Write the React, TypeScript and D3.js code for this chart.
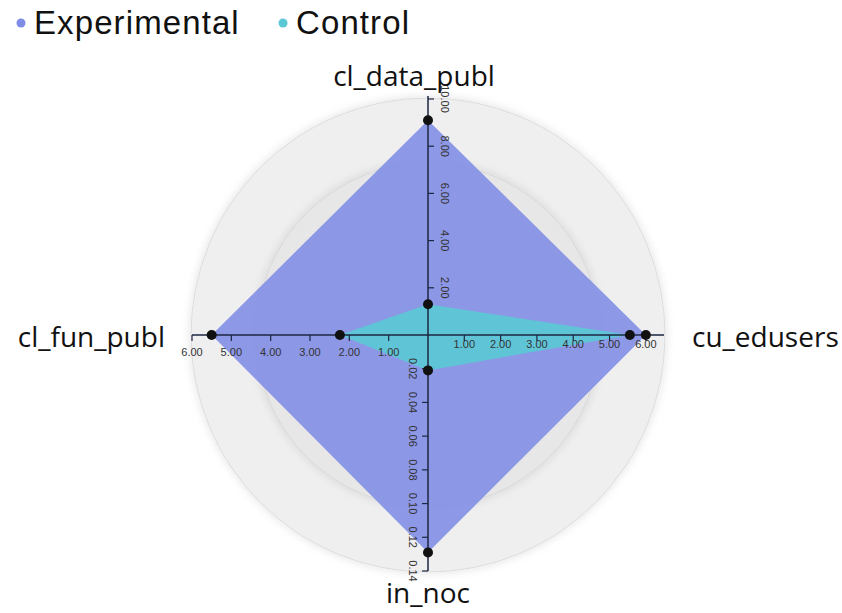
import React from 'react';
import * as d3 from 'd3';

const width = 842;
const height = 613;
const cx = 428;
const cy = 335;
const radius = 236;

// axes, clockwise from the top
const categories = ['cl_data_publ', 'cu_edusers', 'in_noc', 'cl_fun_publ'];
const axisMax = [10, 6.5, 0.14, 6];
const axisTicks = [
  [2, 4, 6, 8, 10],
  [1, 2, 3, 4, 5, 6],
  [0.02, 0.04, 0.06, 0.08, 0.1, 0.12, 0.14],
  [1, 2, 3, 4, 5, 6],
];

const seriesNames = ['Experimental', 'Control'];
const experimental = [9.1, 6.0, 0.129, 5.5];
const control = [1.3, 5.56, 0.021, 2.24];
const seriesColors = ['#7f8ce6', '#5cc8d6'];

const scales = axisMax.map(m => d3.scaleLinear().domain([0, m]).range([0, radius]));
const angles = categories.map((_, i) => (i * Math.PI) / 2);

const point = (i: number, v: number): [number, number] => {
  const r = scales[i](v);
  return [cx + r * Math.sin(angles[i]), cy - r * Math.cos(angles[i])];
};

const line = d3.line().curve(d3.curveLinearClosed);

const App: React.FC = () => {
  const series = [experimental, control];
  const axisColor = '#1c2640';
  const tickFont = { fontFamily: 'Liberation Sans, Arial, sans-serif', fontSize: 11, fill: '#333' };
  const labelFont = { fontFamily: 'Open Sans, sans-serif', fontSize: 28, fill: '#111' };

  return (
    <svg width={width} height={height} style={{ position: 'absolute', left: 0, top: 0, background: '#fff' }}>
      <defs>
        <filter id="shade" x="-20%" y="-20%" width="140%" height="140%">
          <feDropShadow dx="0" dy="0" stdDeviation="5" floodColor="#000" floodOpacity="0.12" />
        </filter>
      </defs>

      {/* legend */}
      <g>
        {seriesNames.map((n, i) => {
          const x = i === 0 ? 21 : 283;
          return (
            <g key={n}>
              <circle cx={x} cy={23} r={4.5} fill={seriesColors[i]} />
              <text
                x={x + 13}
                y={34}
                style={{ fontFamily: 'Liberation Sans, Arial, sans-serif', fontSize: 33, letterSpacing: 1.1, fill: '#111' }}
              >
                {n}
              </text>
            </g>
          );
        })}
      </g>

      {/* background rings */}
      <circle cx={cx} cy={cy} r={radius + 1} fill="#efefef" stroke="#dcdcdc" filter="url(#shade)" />
      <circle cx={cx} cy={cy} r={172} fill="#e7e7e7" stroke="#d8d8d8" filter="url(#shade)" />

      {/* series areas */}
      {series.map((vals, s) => (
        <path
          key={s}
          d={line(vals.map((v, i) => point(i, v))) || ''}
          fill={seriesColors[s]}
          fillOpacity={s === 0 ? 0.88 : 0.92}
        />
      ))}

      {/* axes */}
      {categories.map((c, i) => {
        const [x2, y2] = point(i, axisMax[i]);
        return (
          <g key={c}>
            <line x1={cx} y1={cy} x2={x2} y2={i === 0 ? y2 - 3 : y2} stroke={axisColor} strokeWidth={1.5} />
            {axisTicks[i].map(t => {
              const [tx, ty] = point(i, t);
              const label = t.toFixed(2);
              if (i === 0) {
                return (
                  <g key={t}>
                    <line x1={tx} y1={ty} x2={tx + 6} y2={ty} stroke={axisColor} strokeWidth={1.2} />
                    <text transform={`translate(${tx + 17},${ty}) rotate(90)`} textAnchor="middle" dy="0.35em" style={tickFont}>
                      {label}
                    </text>
                  </g>
                );
              }
              if (i === 2) {
                return (
                  <g key={t}>
                    <line x1={tx} y1={ty} x2={tx - 6} y2={ty} stroke={axisColor} strokeWidth={1.2} />
                    <text transform={`translate(${tx - 15},${ty}) rotate(90)`} textAnchor="middle" dy="0.35em" style={tickFont}>
                      {label}
                    </text>
                  </g>
                );
              }
              return (
                <g key={t}>
                  <line x1={tx} y1={ty} x2={tx} y2={ty + 6} stroke={axisColor} strokeWidth={1.2} />
                  <text x={tx} y={ty + (i === 1 ? 13 : 21)} textAnchor="middle" style={tickFont}>
                    {label}
                  </text>
                </g>
              );
            })}
          </g>
        );
      })}

      {/* points */}
      {series.map((vals, s) =>
        vals.map((v, i) => {
          const [px, py] = point(i, v);
          return <circle key={`${s}-${i}`} cx={px} cy={py} r={5} fill="#111" />;
        })
      )}

      {/* category labels */}
      <text x={414} y={86} textAnchor="middle" style={labelFont}>{categories[0]}</text>
      <text x={692} y={347} textAnchor="start" style={labelFont}>{categories[1]}</text>
      <text x={428} y={603} textAnchor="middle" style={labelFont}>{categories[2]}</text>
      <text x={165} y={347} textAnchor="end" style={labelFont}>{categories[3]}</text>
    </svg>
  );
};

export default App;
